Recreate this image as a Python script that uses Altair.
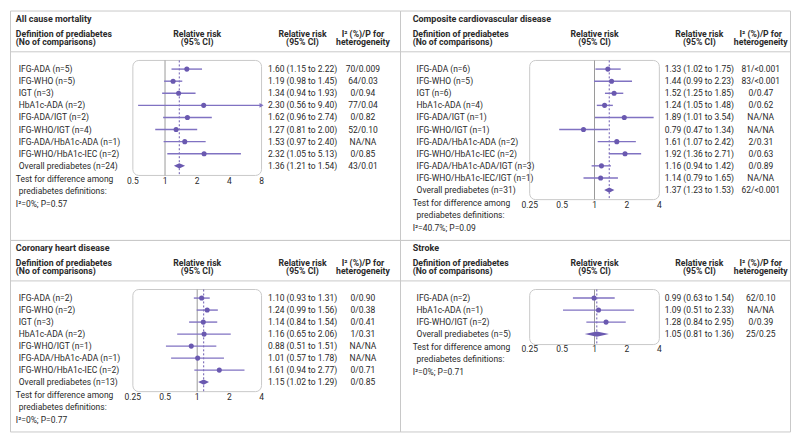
import math
import altair as alt
import pandas as pd

# ---------------- data ----------------
acm_title = "All cause mortality"
acm_labels = ["IFG-ADA (n=5)", "IFG-WHO (n=5)", "IGT (n=3)", "HbA1c-ADA (n=2)", "IFG-ADA/IGT (n=2)",
              "IFG-WHO/IGT (n=4)", "IFG-ADA/HbA1c-ADA (n=1)", "IFG-WHO/HbA1c-IEC (n=2)",
              "Overall prediabetes (n=24)"]
acm_rr = [1.60, 1.19, 1.34, 2.30, 1.62, 1.27, 1.53, 2.32, 1.36]
acm_lo = [1.15, 0.98, 0.94, 0.56, 0.96, 0.81, 0.97, 1.05, 1.21]
acm_hi = [2.22, 1.45, 1.93, 9.40, 2.74, 2.00, 2.40, 5.13, 1.54]
acm_ci = ["1.60 (1.15 to 2.22)", "1.19 (0.98 to 1.45)", "1.34 (0.94 to 1.93)", "2.30 (0.56 to 9.40)",
          "1.62 (0.96 to 2.74)", "1.27 (0.81 to 2.00)", "1.53 (0.97 to 2.40)", "2.32 (1.05 to 5.13)",
          "1.36 (1.21 to 1.54)"]
acm_het = ["70/0.009", "64/0.03", "0/0.94", "77/0.04", "0/0.82", "52/0.10", "NA/NA", "0/0.85", "43/0.01"]
acm_test = "I²=0%; P=0.57"
acm_ticks = [0.5, 1, 2, 4, 8]
acm_tick_labels = ["0.5", "1", "2", "4", "8"]

cvd_title = "Composite cardiovascular disease"
cvd_labels = ["IFG-ADA (n=6)", "IFG-WHO (n=5)", "IGT (n=6)", "HbA1c-ADA (n=4)", "IFG-ADA/IGT (n=1)",
              "IFG-WHO/IGT (n=1)", "IFG-ADA/HbA1c-ADA (n=2)", "IFG-WHO/HbA1c-IEC (n=2)",
              "IFG-ADA/HbA1c-ADA/IGT (n=3)", "IFG-WHO/HbA1c-IEC/IGT (n=1)", "Overall prediabetes (n=31)"]
cvd_rr = [1.33, 1.44, 1.52, 1.24, 1.89, 0.79, 1.61, 1.92, 1.16, 1.14, 1.37]
cvd_lo = [1.02, 0.99, 1.25, 1.05, 1.01, 0.47, 1.07, 1.36, 0.94, 0.79, 1.23]
cvd_hi = [1.75, 2.23, 1.85, 1.48, 3.54, 1.34, 2.42, 2.71, 1.42, 1.65, 1.53]
cvd_ci = ["1.33 (1.02 to 1.75)", "1.44 (0.99 to 2.23)", "1.52 (1.25 to 1.85)", "1.24 (1.05 to 1.48)",
          "1.89 (1.01 to 3.54)", "0.79 (0.47 to 1.34)", "1.61 (1.07 to 2.42)", "1.92 (1.36 to 2.71)",
          "1.16 (0.94 to 1.42)", "1.14 (0.79 to 1.65)", "1.37 (1.23 to 1.53)"]
cvd_het = ["81/<0.001", "83/<0.001", "0/0.47", "0/0.62", "NA/NA", "NA/NA", "2/0.31", "0/0.63",
           "0/0.89", "NA/NA", "62/<0.001"]
cvd_test = "I²=40.7%; P=0.09"

chd_title = "Coronary heart disease"
chd_labels = ["IFG-ADA (n=2)", "IFG-WHO (n=2)", "IGT (n=3)", "HbA1c-ADA (n=2)", "IFG-WHO/IGT (n=1)",
              "IFG-ADA/HbA1c-ADA (n=1)", "IFG-WHO/HbA1c-IEC (n=2)", "Overall prediabetes (n=13)"]
chd_rr = [1.10, 1.24, 1.14, 1.16, 0.88, 1.01, 1.61, 1.15]
chd_lo = [0.93, 0.99, 0.84, 0.65, 0.51, 0.57, 0.94, 1.02]
chd_hi = [1.31, 1.56, 1.54, 2.06, 1.51, 1.78, 2.77, 1.29]
chd_ci = ["1.10 (0.93 to 1.31)", "1.24 (0.99 to 1.56)", "1.14 (0.84 to 1.54)", "1.16 (0.65 to 2.06)",
          "0.88 (0.51 to 1.51)", "1.01 (0.57 to 1.78)", "1.61 (0.94 to 2.77)", "1.15 (1.02 to 1.29)"]
chd_het = ["0/0.90", "0/0.38", "0/0.41", "1/0.31", "NA/NA", "NA/NA", "0/0.71", "0/0.85"]
chd_test = "I²=0%; P=0.77"

stk_title = "Stroke"
stk_labels = ["IFG-ADA (n=2)", "HbA1c-ADA (n=1)", "IFG-WHO/IGT (n=2)", "Overall prediabetes (n=5)"]
stk_rr = [0.99, 1.09, 1.28, 1.05]
stk_lo = [0.63, 0.51, 0.84, 0.81]
stk_hi = [1.54, 2.33, 1.95, 1.36]
stk_ci = ["0.99 (0.63 to 1.54)", "1.09 (0.51 to 2.33)", "1.28 (0.84 to 2.95)", "1.05 (0.81 to 1.36)"]
stk_het = ["62/0.10", "NA/NA", "0/0.39", "25/0.25"]
stk_test = "I²=0%; P=0.71"

ticks_b = [0.25, 0.5, 1, 2, 4]
tick_labels_b = ["0.25", "0.5", "1", "2", "4"]

# ---------------- style ----------------
FONT = "Roboto"
TXT = "#2a2a2a"
PURPLE = "#6a59b0"
LINEC = "#8072c2"
BORDER = "#c9c9c9"
FS = 8.5
W = 391
SX = W / 400

GEOM = {
    "left": dict(title=6, label=9, box0=126, box1=258, rr=300, het=362, t1=6, t2=9),
    "right": dict(title=13, label=17, box0=133, box1=266, rr=307, het=370, t1=13, t2=17),
}


def txt(s, x, y, sy, align="left", bold=False, size=FS):
    return alt.Chart(pd.DataFrame({"a": [0]})).mark_text(
        align=align, baseline="middle", font=FONT, fontSize=size,
        fontWeight="bold" if bold else "normal", color=TXT
    ).encode(x=alt.value(x * SX), y=alt.value(y * sy), text=alt.value(s))


def panel(title, labels, rr, lo, hi, ci, het, test, ticks, tick_labels, side, H, sy):
    g = GEOM[side]
    n = len(labels)
    df = pd.DataFrame({"label": labels, "rr": rr, "lo": lo, "hi": hi, "ci": ci, "het": het,
                       "row": list(range(n))})
    studies = df.iloc[:-1]
    overall = df.iloc[-1:]
    step = 12.6
    r0 = 61
    y_over = r0 + step * (n - 1)
    box_top = 52 * sy
    box_bot = (y_over + (11 if n < 6 else 10)) * sy
    axis_y = y_over + 16

    ymin = -r0 / step
    ymax = (H / sy - r0) / step
    yscale = alt.Scale(domain=[ymin, ymax], reverse=True, nice=False, zero=False)

    t0, t1 = ticks[0], ticks[-1]
    b0, b1 = g["box0"] * SX, g["box1"] * SX
    span = math.log2(t1 / t0)
    dmin = t0 * 2 ** (-span * b0 / (b1 - b0))
    dmax = t0 * 2 ** (span * (W - b0) / (b1 - b0))
    xscale = alt.Scale(type="log", base=2, domain=[dmin, dmax], nice=False)
    Y = alt.Y("row:Q", scale=yscale, axis=None)

    one = pd.DataFrame({"a": [0]})
    layers = []
    layers.append(alt.Chart(one).mark_rule(color=BORDER, strokeWidth=1).encode(
        x=alt.value(0), x2=alt.value(W), y=alt.value(43 * sy)))
    layers.append(alt.Chart(one).mark_rect(fill="transparent", stroke=BORDER, strokeWidth=1,
                                           cornerRadius=6).encode(
        x=alt.XDatum(t0, scale=xscale, axis=None), x2=alt.X2Datum(t1),
        y=alt.value(box_top), y2=alt.value(box_bot)))
    layers.append(alt.Chart(one).mark_rule(color="#9a9a9a", strokeWidth=1).encode(
        x=alt.XDatum(1, scale=xscale, axis=None), y=alt.value(box_top), y2=alt.value(box_bot)))
    layers.append(alt.Chart(overall).mark_rule(color=PURPLE, strokeWidth=1, strokeDash=[2, 2]).encode(
        x=alt.X("rr:Q", scale=xscale, axis=None), y=alt.value(box_top), y2=alt.value(box_bot)))
    layers.append(alt.Chart(studies).transform_calculate(
        hic=f"min(datum.hi, {t1})", loc=f"max(datum.lo, {t0})").mark_rule(
        color=LINEC, strokeWidth=1.4).encode(
        x=alt.X("loc:Q", scale=xscale, axis=None), x2="hic:Q", y=Y))
    layers.append(alt.Chart(studies).transform_filter(alt.datum.hi > t1).transform_calculate(
        hic=f"{t1}").mark_point(
        shape="triangle-right", filled=True, size=22, color=LINEC, opacity=1).encode(
        x=alt.X("hic:Q", scale=xscale, axis=None), y=Y))
    layers.append(alt.Chart(studies).mark_circle(color=PURPLE, size=26, opacity=1).encode(
        x=alt.X("rr:Q", scale=xscale, axis=None), y=Y))
    o = overall.iloc[0]
    dia = pd.DataFrame({"x": [o["lo"], o["rr"], o["hi"]], "d": [0.0, 0.22, 0.0]})
    dia["ya"] = o["row"] - dia["d"]
    dia["yb"] = o["row"] + dia["d"]
    layers.append(alt.Chart(dia).mark_area(color=PURPLE, orient="vertical", opacity=1).encode(
        x=alt.X("x:Q", scale=xscale, axis=None),
        y=alt.Y("ya:Q", scale=yscale, axis=None), y2="yb:Q"))
    base_t = dict(baseline="middle", font=FONT, fontSize=FS, color=TXT)
    layers.append(alt.Chart(df).mark_text(align="left", **base_t).encode(
        x=alt.value(g["label"] * SX), y=Y, text="label:N"))
    layers.append(alt.Chart(df).mark_text(align="center", **base_t).encode(
        x=alt.value(g["rr"] * SX), y=Y, text="ci:N"))
    layers.append(alt.Chart(df).mark_text(align="center", **base_t).encode(
        x=alt.value(g["het"] * SX), y=Y, text="het:N"))
    tdf = pd.DataFrame({"t": ticks, "lab": tick_labels})
    layers.append(alt.Chart(tdf).mark_text(align="center", **base_t).encode(
        x=alt.X("t:Q", scale=xscale, axis=None), y=alt.value(axis_y * sy), text="lab:N"))
    mid = (g["box0"] + g["box1"]) / 2
    layers += [
        txt(title, g["title"], 8.5, sy, bold=True, size=9),
        txt("Definition of prediabetes", g["title"], 24, sy, bold=True, size=8.7),
        txt("(No of comparisons)", g["title"], 33, sy, bold=True, size=8.7),
        txt("Relative risk", mid, 24, sy, align="center", bold=True, size=8.7),
        txt("(95% CI)", mid, 33, sy, align="center", bold=True, size=8.7),
        txt("Relative risk", g["rr"], 24, sy, align="center", bold=True, size=8.7),
        txt("(95% CI)", g["rr"], 33, sy, align="center", bold=True, size=8.7),
        txt("I² (%)/P for", g["het"], 24, sy, align="center", bold=True, size=8.7),
        txt("heterogeneity", g["het"], 33, sy, align="center", bold=True, size=8.7),
        txt("Test for difference among", g["t1"], y_over + 13.5, sy),
        txt("prediabetes definitions:", g["t2"], y_over + 26.5, sy),
        txt(test, g["t1"], y_over + 39.5, sy),
    ]
    return alt.layer(*layers).properties(width=W, height=H)


HT, HB = 230, 192
SYT, SYB = HT / 239, HB / 201

p1 = panel(acm_title, acm_labels, acm_rr, acm_lo, acm_hi, acm_ci, acm_het, acm_test,
           acm_ticks, acm_tick_labels, "left", HT, SYT)
p2 = panel(cvd_title, cvd_labels, cvd_rr, cvd_lo, cvd_hi, cvd_ci, cvd_het, cvd_test,
           ticks_b, tick_labels_b, "right", HT, SYT)
p3 = panel(chd_title, chd_labels, chd_rr, chd_lo, chd_hi, chd_ci, chd_het, chd_test,
           ticks_b, tick_labels_b, "left", HB, SYB)
p4 = panel(stk_title, stk_labels, stk_rr, stk_lo, stk_hi, stk_ci, stk_het, stk_test,
           ticks_b, tick_labels_b, "right", HB, SYB)

chart = alt.concat(p1, p2, p3, p4, columns=2, spacing=0, bounds="flush").properties(
    padding=1, background="white"
).configure_view(stroke=BORDER, strokeWidth=1)

chart.save("out.html", embed_options={"renderer": "svg", "actions": False})
